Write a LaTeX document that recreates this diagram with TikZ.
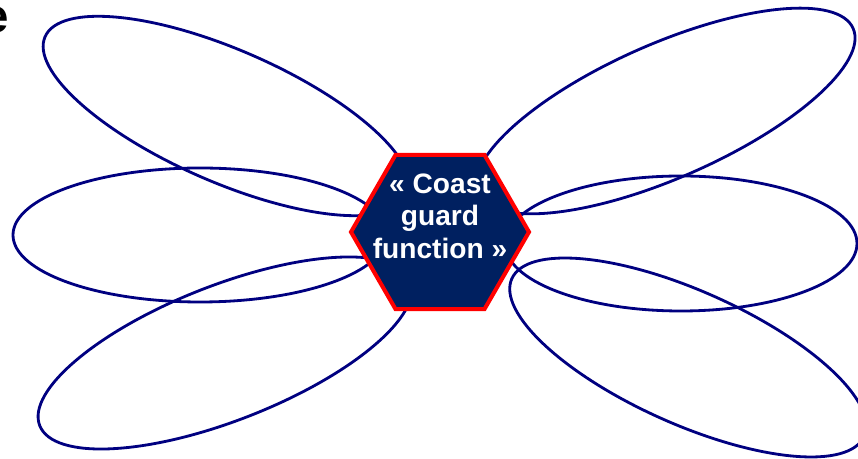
\documentclass[tikz,border=0pt]{standalone}
\usepackage{fontspec}
\setmainfont{Liberation Sans}
\usepackage{tikz}
\usetikzlibrary{shapes.geometric}
\definecolor{PetalNavy}{HTML}{000080}
\definecolor{HexNavy}{HTML}{002060}
\definecolor{HexRed}{HTML}{FF0000}

\begin{document}
\begin{tikzpicture}[
    petal/.style={
      ellipse,
      draw=PetalNavy,
      line width=1.6pt,
      inner sep=0pt
    },
    hexa/.style={
      regular polygon,
      regular polygon sides=6,
      minimum size=3.56cm,
      draw=HexRed,
      fill=HexNavy,
      line width=2.3pt,
      inner sep=0pt
    },
    tagtext/.style={
      font=\bfseries\fontsize{16}{18.5}\selectfont,
      text=white,
      align=center,
      inner sep=0pt
    },
    cropped/.style={
      font=\bfseries\fontsize{27}{30}\selectfont,
      anchor=base east,
      inner sep=0pt
    }
  ]
  \useasboundingbox (0,0) rectangle (17.16,9.18);

  % Cut-off heading
  \node[cropped] (head) at (0.19,8.52) {e};

  % Left petals
  \node[petal, minimum width=7.92cm, minimum height=2.64cm, rotate=-23.6] (pUL) at (4.53,6.86) {};
  \node[petal, minimum width=7.48cm, minimum height=2.68cm] (pML) at (4.00,4.48) {};
  \node[petal, minimum width=7.96cm, minimum height=2.70cm, rotate=21.4] (pLL) at (4.50,2.12) {};

  % Right petals
  \node[petal, minimum width=8.20cm, minimum height=2.68cm, rotate=23.75] (pUR) at (13.31,6.96) {};
  \node[petal, minimum width=7.04cm, minimum height=2.70cm] (pMR) at (13.62,4.31) {};
  \node[petal, minimum width=7.72cm, minimum height=2.66cm, rotate=-24.1] (pLR) at (13.76,2.03) {};

  % Centre
  \node[hexa] (hex) at (8.80,4.54) {};
  \node[tagtext] (title) at (8.80,4.86) {« Coast\\guard\\function »};

\end{tikzpicture}
\end{document}
